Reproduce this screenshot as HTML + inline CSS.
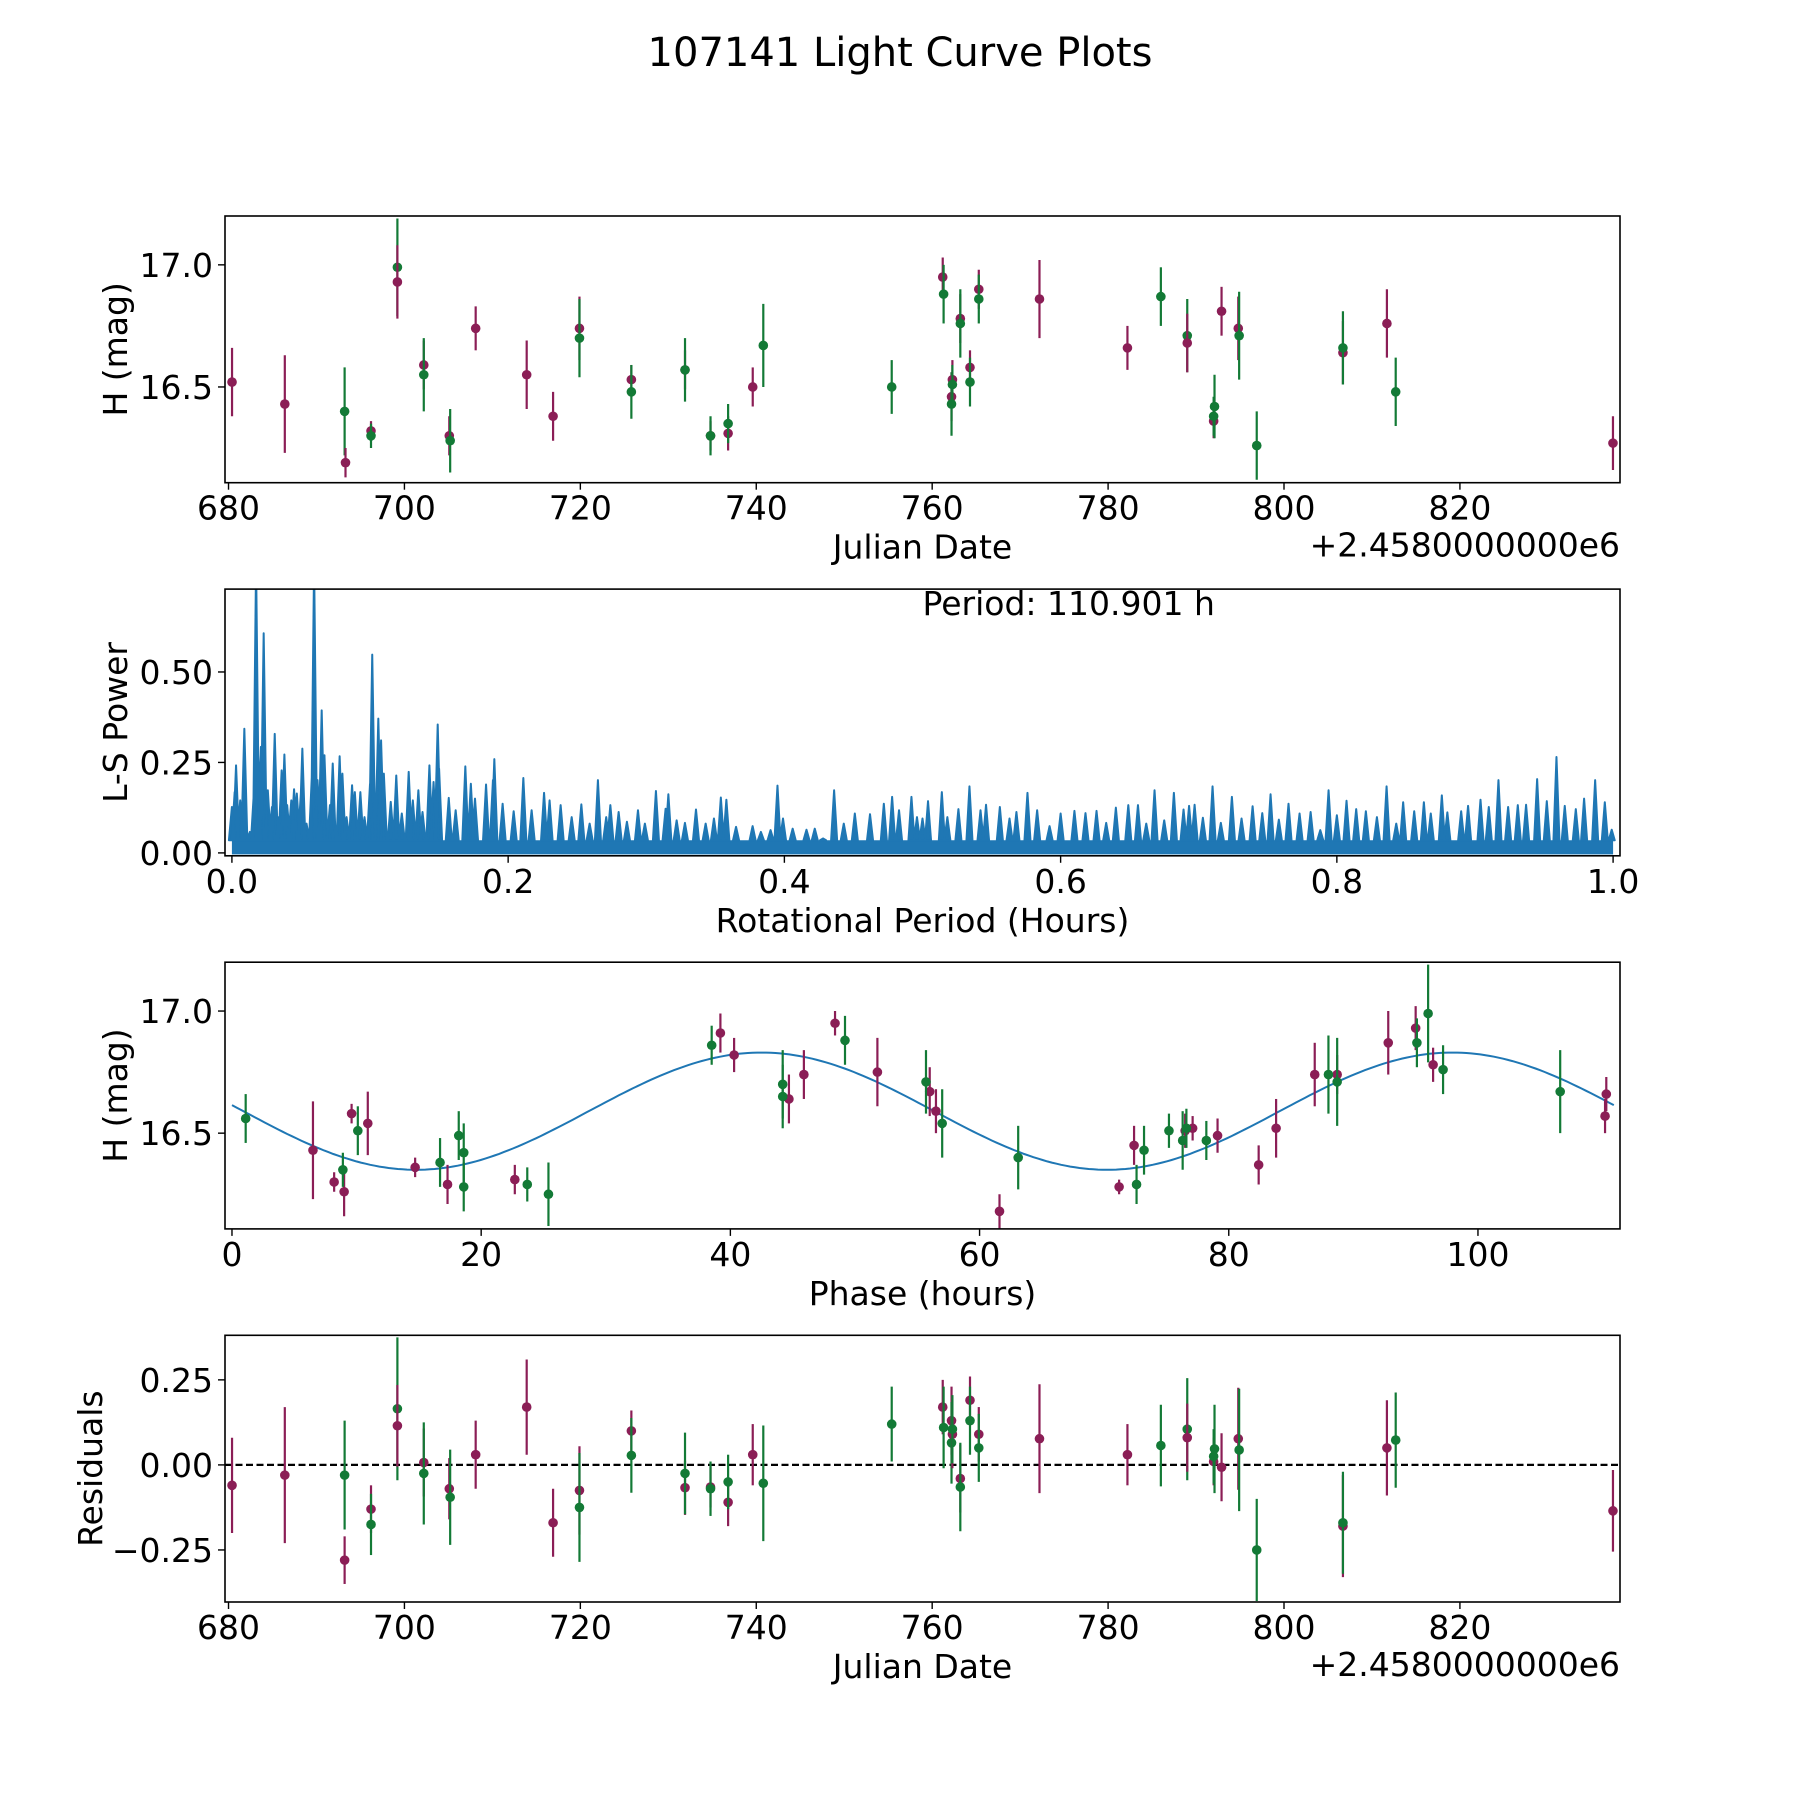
<!DOCTYPE html>
<html><head><meta charset="utf-8"><style>
html,body{margin:0;padding:0;background:#fff}
svg{display:block;font-family:"DejaVu Sans","Liberation Sans",sans-serif}
</style></head><body>
<svg id="fig" width="1800" height="1800" viewBox="0 0 1800 1800" xmlns="http://www.w3.org/2000/svg">
<rect width="1800" height="1800" fill="#fff"/>
<text x="900" y="66" font-size="40" text-anchor="middle">107141 Light Curve Plots</text>
</svg>
<script>
// ---- Panel 1: raw light curve ----
const p1Dates=[680.4,686.4,693.2,693.3,696.2,696.2,699.2,699.2,702.2,702.2,705.1,705.2,708.1,713.9,716.9,719.9,719.9,725.8,725.8,731.9,731.9,734.8,734.8,736.8,736.8,739.6,740.8,755.4,761.2,761.3,762.2,762.2,762.3,762.3,763.2,763.2,764.3,764.3,765.3,765.3,772.2,782.2,786.0,789.0,789.0,792.0,792.0,792.1,792.9,794.8,794.9,796.9,806.7,806.7,811.7,812.7,837.4];
const p1Mags=[16.52,16.43,16.40,16.19,16.32,16.30,16.99,16.93,16.59,16.55,16.30,16.28,16.74,16.55,16.38,16.74,16.70,16.53,16.48,16.57,16.57,16.30,16.30,16.31,16.35,16.50,16.67,16.50,16.95,16.88,16.46,16.43,16.53,16.51,16.78,16.76,16.58,16.52,16.90,16.86,16.86,16.66,16.87,16.71,16.68,16.36,16.38,16.42,16.81,16.74,16.71,16.26,16.64,16.66,16.76,16.48,16.27];
const p1Errs=[0.14,0.2,0.18,0.06,0.04,0.05,0.2,0.15,0.1,0.15,0.08,0.13,0.09,0.14,0.1,0.13,0.16,0.06,0.11,0.08,0.13,0.06,0.08,0.07,0.08,0.08,0.17,0.11,0.08,0.12,0.1,0.13,0.08,0.08,0.1,0.14,0.07,0.1,0.08,0.1,0.16,0.09,0.12,0.15,0.12,0.07,0.08,0.13,0.1,0.13,0.18,0.14,0.13,0.15,0.14,0.14,0.11];
const p1Bands=["p","p","g","p","p","g","g","p","p","g","p","g","p","p","p","p","g","p","g","p","g","p","g","p","g","p","g","g","p","g","p","g","p","g","p","g","p","g","p","g","p","p","g","g","p","p","g","g","p","p","g","g","p","g","p","g","p"];
const p1XTicks=[680,700,720,740,760,780,800,820];
const p1YTicks=[16.5,17.0];
const p1YTickLabels=["16.5","17.0"];

// ---- Panel 2: Lomb-Scargle periodogram (peak readings) ----
const lsPeriods=[0.000,0.002,0.003,0.006,0.009,0.013,0.016,0.0175,0.019,0.021,0.023,0.026,0.029,0.031,0.034,0.036,0.038,0.040,0.043,0.045,0.047,0.050,0.051,0.054,0.058,0.0595,0.062,0.065,0.067,0.071,0.073,0.075,0.078,0.080,0.083,0.087,0.089,0.093,0.096,0.100,0.1016,0.106,0.108,0.110,0.115,0.119,0.123,0.128,0.131,0.135,0.138,0.143,0.146,0.149,0.150,0.157,0.162,0.169,0.173,0.176,0.184,0.189,0.190,0.196,0.204,0.211,0.217,0.226,0.230,0.238,0.246,0.253,0.259,0.265,0.271,0.274,0.280,0.286,0.294,0.299,0.307,0.314,0.316,0.322,0.328,0.336,0.343,0.349,0.354,0.358,0.365,0.377,0.383,0.390,0.395,0.399,0.406,0.416,0.422,0.428,0.436,0.443,0.451,0.462,0.472,0.478,0.483,0.492,0.496,0.500,0.504,0.514,0.518,0.526,0.534,0.542,0.546,0.556,0.563,0.568,0.576,0.583,0.592,0.600,0.610,0.618,0.626,0.633,0.640,0.649,0.656,0.662,0.668,0.675,0.682,0.689,0.693,0.697,0.703,0.710,0.716,0.724,0.731,0.739,0.746,0.752,0.758,0.765,0.773,0.781,0.788,0.794,0.800,0.807,0.814,0.821,0.829,0.836,0.843,0.848,0.856,0.863,0.868,0.876,0.880,0.890,0.895,0.904,0.910,0.917,0.924,0.931,0.937,0.945,0.952,0.959,0.965,0.973,0.979,0.987,0.994,0.999];
const lsPower=[0.127,0.168,0.242,0.145,0.343,0.058,0.173,0.80,0.270,0.293,0.607,0.173,0.127,0.329,0.099,0.228,0.272,0.132,0.145,0.176,0.164,0.168,0.288,0.081,0.224,0.80,0.201,0.394,0.270,0.132,0.247,0.074,0.267,0.219,0.099,0.187,0.168,0.168,0.099,0.191,0.548,0.371,0.311,0.219,0.141,0.214,0.109,0.224,0.145,0.173,0.113,0.242,0.196,0.355,0.233,0.152,0.118,0.239,0.191,0.150,0.189,0.201,0.259,0.136,0.115,0.207,0.118,0.166,0.145,0.132,0.099,0.134,0.081,0.201,0.099,0.132,0.113,0.086,0.118,0.081,0.171,0.122,0.162,0.090,0.083,0.120,0.081,0.095,0.153,0.147,0.072,0.074,0.058,0.063,0.186,0.095,0.067,0.064,0.067,0.040,0.173,0.081,0.109,0.107,0.136,0.155,0.118,0.155,0.099,0.095,0.143,0.168,0.099,0.121,0.184,0.118,0.133,0.127,0.095,0.113,0.166,0.118,0.074,0.109,0.116,0.110,0.116,0.083,0.125,0.132,0.132,0.081,0.173,0.090,0.166,0.120,0.130,0.133,0.097,0.184,0.083,0.155,0.095,0.129,0.110,0.162,0.092,0.136,0.109,0.113,0.063,0.173,0.104,0.144,0.121,0.115,0.099,0.184,0.081,0.140,0.115,0.140,0.109,0.159,0.112,0.115,0.130,0.147,0.127,0.201,0.127,0.132,0.133,0.204,0.143,0.265,0.130,0.121,0.150,0.201,0.140,0.064];
const lsFloor=[0.035];
const p2XTicks=[0.0,0.2,0.4,0.6,0.8,1.0];
const p2XTickLabels=["0.0","0.2","0.4","0.6","0.8","1.0"];
const p2YTicks=[0.0,0.25,0.5];
const p2YTickLabels=["0.00","0.25","0.50"];

// ---- Panel 3: phase-folded ----
const phPhases=[6.5,8.2,9.0,9.6,10.9,14.7,17.3,22.7,39.2,40.3,44.7,45.9,48.4,51.8,56.0,56.5,61.6,71.2,72.4,76.5,77.1,79.1,82.4,83.8,86.9,88.7,92.8,95.0,96.4,110.2,110.3,
 1.1,8.9,10.1,16.7,18.2,18.6,18.6,23.7,25.4,38.5,44.2,44.2,49.2,55.7,57.0,63.1,72.6,73.2,75.2,76.3,76.6,78.2,88.0,88.7,95.1,96.0,97.2,106.6];
const phMags=[16.43,16.30,16.26,16.58,16.54,16.36,16.29,16.31,16.91,16.82,16.64,16.74,16.95,16.75,16.67,16.59,16.18,16.28,16.45,16.51,16.52,16.49,16.37,16.52,16.74,16.74,16.87,16.93,16.78,16.57,16.66,
 16.56,16.35,16.51,16.38,16.49,16.28,16.42,16.29,16.25,16.86,16.70,16.65,16.88,16.71,16.54,16.40,16.29,16.43,16.51,16.47,16.52,16.47,16.74,16.71,16.87,16.99,16.76,16.67];
const phErrs=[0.2,0.04,0.1,0.04,0.13,0.04,0.08,0.06,0.08,0.07,0.1,0.1,0.05,0.14,0.1,0.09,0.07,0.03,0.08,0.07,0.05,0.07,0.08,0.12,0.13,0.08,0.13,0.09,0.07,0.07,0.07,
 0.1,0.07,0.1,0.1,0.1,0.1,0.12,0.07,0.13,0.08,0.14,0.13,0.1,0.13,0.14,0.13,0.08,0.1,0.07,0.12,0.08,0.08,0.16,0.18,0.1,0.2,0.1,0.17];
const phBands=["p","p","p","p","p","p","p","p","p","p","p","p","p","p","p","p","p","p","p","p","p","p","p","p","p","p","p","p","p","p","p",
 "g","g","g","g","g","g","g","g","g","g","g","g","g","g","g","g","g","g","g","g","g","g","g","g","g","g","g","g"];
const fitParams=[16.59,0.24,42.5,55.45]; // mean, amplitude, phase of max, sub-period
const p3XTicks=[0,20,40,60,80,100];
const p3YTicks=[16.5,17.0];
const p3YTickLabels=["16.5","17.0"];

// ---- Panel 4: residuals ----
const resDates=[680.4,686.4,693.2,693.2,696.2,696.2,699.2,699.2,702.2,702.2,705.1,705.2,708.1,713.9,716.9,719.9,719.9,725.8,725.8,731.9,731.9,734.8,734.8,736.8,736.8,739.6,740.8,755.4,761.2,761.3,762.2,762.2,762.3,762.3,763.2,763.2,764.3,764.3,765.3,765.3,772.2,782.2,786.0,789.0,789.0,792.0,792.0,792.1,792.9,794.8,794.9,796.9,806.7,806.7,811.7,812.7,837.4];
const resValues=[-0.06,-0.03,-0.03,-0.28,-0.13,-0.175,0.165,0.115,0.007,-0.025,-0.07,-0.095,0.03,0.17,-0.17,-0.075,-0.125,0.10,0.028,-0.067,-0.025,-0.065,-0.07,-0.11,-0.05,0.03,-0.054,0.12,0.17,0.11,0.13,0.065,0.09,0.105,-0.04,-0.065,0.19,0.13,0.09,0.05,0.077,0.03,0.057,0.105,0.08,0.01,0.025,0.047,-0.007,0.077,0.044,-0.25,-0.18,-0.17,0.05,0.073,-0.135];
const resErrs=[0.14,0.2,0.16,0.07,0.07,0.09,0.21,0.12,0.1,0.15,0.09,0.14,0.1,0.14,0.1,0.13,0.16,0.06,0.11,0.08,0.12,0.06,0.08,0.07,0.08,0.09,0.17,0.11,0.08,0.12,0.1,0.12,0.1,0.1,0.1,0.13,0.07,0.1,0.08,0.1,0.16,0.09,0.12,0.15,0.1,0.07,0.08,0.13,0.1,0.15,0.18,0.15,0.15,0.15,0.14,0.14,0.12];
const resBands=["p","p","g","p","p","g","g","p","p","g","p","g","p","p","p","p","g","p","g","p","g","p","g","p","g","p","g","g","p","g","p","g","p","g","p","g","p","g","p","g","p","p","g","g","p","p","g","g","p","p","g","g","p","g","p","g","p"];
const p4YTicks=[-0.25,0,0.25];
const p4YTickLabels=["\u22120.25","0.00","0.25"];

const NS="http://www.w3.org/2000/svg";
const svg=document.getElementById('fig');
const L=225,R=1620,H=266.7;
const TOPS=[216,589.1,962.2,1335.3];
const COL={p:"#8b1e56",g:"#137a36"};
const BLUE="#1f77b4";
const FS=33;
function mk(tag,attrs,parent){const e=document.createElementNS(NS,tag);for(const k in attrs)e.setAttribute(k,attrs[k]);(parent||svg).appendChild(e);return e;}
function scale(d0,d1,r0,r1){return v=>r0+(v-d0)*(r1-r0)/(d1-d0);}

function panel(i,xlim,ylim,name){
  const top=TOPS[i],bot=top+H;
  const g=mk('g',{});
  
  
  const clipId='clip'+i;
  const cp=mk('clipPath',{id:clipId},g);
  mk('rect',{x:L,y:top,width:R-L,height:H},cp);
  const plot=mk('g',{'clip-path':'url(#'+clipId+')'},g);
  
  
  return {g,plot,top,bot,x:scale(xlim[0],xlim[1],L,R),y:scale(ylim[0],ylim[1],bot,top)};
}
function frame(P){
  const f=mk('rect',{x:L,y:P.top,width:R-L,height:H,fill:'none',stroke:'#000','stroke-width':1.6},P.g);
  
  
}
function xticks(P,ticks,labels){
  ticks.forEach((t,k)=>{
    const x=P.x(t);
    const tk=mk('line',{x1:x,x2:x,y1:P.bot,y2:P.bot+7,stroke:'#000','stroke-width':1.4},P.g);
    
    
    const tx=mk('text',{x:x,y:P.bot+37,'font-size':FS,'text-anchor':'middle'},P.g);
    
    
    tx.textContent=labels?labels[k]:String(t);
  });
}
function yticks(P,ticks,labels){
  ticks.forEach((t,k)=>{
    const y=P.y(t);
    const tk=mk('line',{x1:L-7,x2:L,y1:y,y2:y,stroke:'#000','stroke-width':1.4},P.g);
    
    
    const tx=mk('text',{x:L-12,y:y+12,'font-size':FS,'text-anchor':'end'},P.g);
    
    
    tx.textContent=labels[k];
  });
}
function xlabel(P,txt,name){
  const t=mk('text',{x:(L+R)/2,y:P.bot+76,'font-size':FS,'text-anchor':'middle'},P.g);
  
  
  t.textContent=txt;
}
function ylabel(P,txt,cx,name){
  const cy=(P.top+P.bot)/2;
  const t=mk('text',{x:cx,y:cy,'font-size':FS,'text-anchor':'middle',transform:'rotate(-90 '+cx+' '+cy+')'},P.g);
  
  
  t.textContent=txt;
}
function offsetText(P){
  const t=mk('text',{x:R,y:P.bot+74,'font-size':FS,'text-anchor':'end'},P.g);
  
  
  t.textContent='+2.4580000000e6';
}
function errpoints(P,xs,ys,es,bs,nm){
  xs.forEach((xv,k)=>{
    const x=P.x(xv),c=COL[bs[k]];
    const grp=mk('g',{},P.plot);
    
    
    mk('line',{x1:x,x2:x,y1:P.y(ys[k]-es[k]),y2:P.y(ys[k]+es[k]),stroke:c,'stroke-width':2.2},grp);
    mk('circle',{cx:x,cy:P.y(ys[k]),r:4.8,fill:c},grp);
  });
}

const DLIM=[679.6,838.2];
const MLIM=[16.108,17.2];

// Panel 1
const P1=panel(0,DLIM,MLIM,'raw-light-curve-panel');
errpoints(P1,p1Dates,p1Mags,p1Errs,p1Bands,'observation');
frame(P1);xticks(P1,p1XTicks);yticks(P1,p1YTicks,p1YTickLabels);
xlabel(P1,'Julian Date','x-axis-title-julian-date');ylabel(P1,'H (mag)',127,'y-axis-title-h-mag');offsetText(P1);

// Panel 2
const P2=panel(1,[-0.005,1.005],[-0.008,0.729],'periodogram-panel');
const fl=mk('rect',{x:P2.x(0),y:P2.y(lsFloor[0]),width:P2.x(1)-P2.x(0),height:P2.y(0)-P2.y(lsFloor[0])+1.5,fill:BLUE},P2.plot);


let dpath='';
lsPeriods.forEach((p,k)=>{
  const x=P2.x(p),yb=P2.y(lsFloor[0]),yt=P2.y(lsPower[k]);
  dpath+='M'+(x-3)+' '+yb+'L'+x+' '+yt+'L'+(x+3)+' '+yb+'Z ';
});
const sp=mk('path',{d:dpath,fill:BLUE,stroke:BLUE,'stroke-width':2,'stroke-linejoin':'round'},P2.plot);


frame(P2);xticks(P2,p2XTicks,p2XTickLabels);yticks(P2,p2YTicks,p2YTickLabels);
xlabel(P2,'Rotational Period (Hours)','x-axis-title-rotational-period');ylabel(P2,'L-S Power',127,'y-axis-title-ls-power');
const pt=mk('text',{x:P2.x(0.5),y:P2.top+26,'font-size':FS},P2.g);


pt.textContent='Period: 110.901 h';

// Panel 3
const P3=panel(2,[-0.56,111.4],MLIM,'phase-folded-panel');
let fp='';
for(let k=0;k<=300;k++){
  const ph=110.901*k/300;
  const m=fitParams[0]+fitParams[1]*Math.cos(2*Math.PI*(ph-fitParams[2])/fitParams[3]);
  fp+=(k?'L':'M')+P3.x(ph).toFixed(1)+' '+P3.y(m).toFixed(1);
}
const fitLine=mk('path',{d:fp,fill:'none',stroke:BLUE,'stroke-width':2},P3.plot);


errpoints(P3,phPhases,phMags,phErrs,phBands,'phased-observation');
frame(P3);xticks(P3,p3XTicks);yticks(P3,p3YTicks,p3YTickLabels);
xlabel(P3,'Phase (hours)','x-axis-title-phase');ylabel(P3,'H (mag)',127,'y-axis-title-h-mag-phase');

// Panel 4
const P4=panel(3,DLIM,[-0.403,0.381],'residuals-panel');
const zl=mk('line',{x1:L,x2:R,y1:P4.y(0),y2:P4.y(0),stroke:'#000','stroke-width':2.2,'stroke-dasharray':'7 3.5'},P4.plot);


errpoints(P4,resDates,resValues,resErrs,resBands,'residual');
frame(P4);xticks(P4,p1XTicks);yticks(P4,p4YTicks,p4YTickLabels);
xlabel(P4,'Julian Date','x-axis-title-julian-date-residuals');ylabel(P4,'Residuals',102,'y-axis-title-residuals');offsetText(P4);
</script>
</body></html>
